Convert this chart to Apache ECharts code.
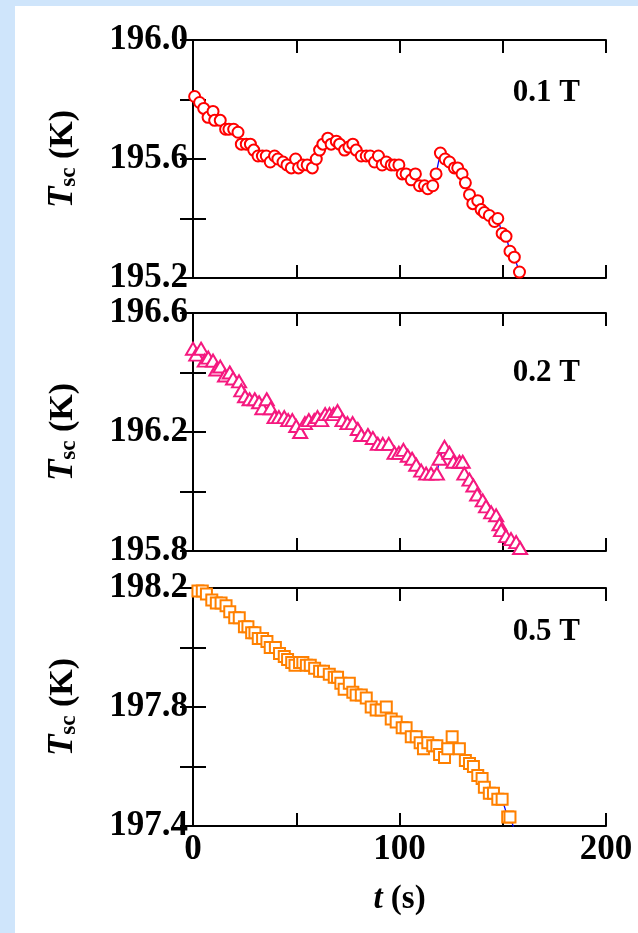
<!DOCTYPE html>
<html>
<head>
<meta charset="utf-8">
<script src="https://cdn.jsdelivr.net/npm/echarts@6/dist/echarts.min.js"></script>
<style>
  html, body { margin: 0; padding: 0; background: #cfe5fb; }
  #card { position: absolute; left: 15px; top: 6px; right: 0; bottom: 0; background: #fff; }
  #chart { position: absolute; left: 0; top: 0; width: 638px; height: 933px; }
</style>
</head>
<body>
<div id="card"></div>
<div id="chart"></div>
<script>
// 0.1 T
const t1 = [0.8, 3.2, 5.2, 7.3, 9.7, 10.5, 13.2, 15.8, 17.4, 19.7, 21.8, 23.4, 25.8, 27.8, 29.4, 31.5, 33.6, 35.5, 37.4, 39.5,
  41.1, 43.6, 45.5, 47.6, 49.7, 51.1, 53.2, 55.3, 57.8, 59.7, 61.3, 62.9, 65.3, 66.9, 69.4, 71.0, 73.4, 75.5, 77.4, 79.0,
  81.5, 83.9, 85.8, 87.9, 89.8, 91.6, 93.6, 96.0, 97.6, 99.7, 101.3, 103.2, 105.7, 107.7, 109.7, 112.1, 113.7, 116.1, 117.7, 119.8,
  122.1, 124.2, 126.6, 128.2, 130.3, 131.9, 133.9, 135.5, 137.9, 139.5, 141.1, 143.5, 146.0, 147.6, 149.7, 151.6, 153.5, 155.6, 158.1];
const v1 = [195.81, 195.79, 195.77, 195.74, 195.76, 195.73, 195.73, 195.70, 195.70, 195.70, 195.69, 195.65, 195.65, 195.65, 195.63, 195.61, 195.61, 195.61, 195.59, 195.61,
  195.60, 195.59, 195.58, 195.57, 195.60, 195.57, 195.58, 195.58, 195.57, 195.60, 195.63, 195.65, 195.67, 195.65, 195.66, 195.65, 195.63, 195.64, 195.65, 195.63,
  195.61, 195.61, 195.61, 195.59, 195.61, 195.58, 195.59, 195.58, 195.58, 195.58, 195.55, 195.55, 195.53, 195.55, 195.51, 195.51, 195.50, 195.51, 195.55, 195.62,
  195.60, 195.59, 195.57, 195.57, 195.55, 195.52, 195.48, 195.45, 195.46, 195.43, 195.42, 195.41, 195.39, 195.40, 195.35, 195.34, 195.29, 195.27, 195.22];

// 0.2 T
const t2 = [0, 1.6, 3.9, 5.7, 7.4, 9.7, 11.3, 13.2, 15.5, 17.8, 19.4, 22.3, 23.4, 25.2, 27.4, 29.9, 32.0, 33.6, 35.7, 37.6,
  39.5, 41.6, 44.2, 46.1, 48.1, 50.0, 51.9, 54.2, 56.1, 58.7, 60.3, 62.1, 64.0, 66.1, 68.1, 70.0, 72.4, 74.8, 77.3, 79.8,
  81.5, 84.7, 87.1, 89.5, 91.9, 94.8, 97.6, 99.7, 101.9, 104.0, 106.1, 108.1, 110.5, 112.9, 115.3, 118.1, 119.4, 121.8, 124.2, 126.1,
  129.0, 130.6, 131.4, 133.9, 135.8, 137.6, 140.3, 141.9, 144.4, 146.8, 148.4, 149.2, 151.6, 154.0, 156.5, 158.4];
const v2 = [196.48, 196.46, 196.48, 196.44, 196.45, 196.44, 196.41, 196.42, 196.39, 196.40, 196.38, 196.37, 196.34, 196.32, 196.31, 196.31, 196.30, 196.28, 196.31, 196.28,
  196.25, 196.25, 196.25, 196.24, 196.24, 196.22, 196.20, 196.23, 196.24, 196.24, 196.25, 196.24, 196.26, 196.26, 196.26, 196.27, 196.24, 196.23, 196.23, 196.21,
  196.19, 196.19, 196.18, 196.16, 196.16, 196.16, 196.13, 196.13, 196.14, 196.12, 196.11, 196.09, 196.07, 196.06, 196.06, 196.06, 196.11, 196.15, 196.13, 196.10,
  196.10, 196.10, 196.06, 196.04, 196.02, 195.99, 195.97, 195.95, 195.93, 195.92, 195.89, 195.87, 195.85, 195.84, 195.83, 195.81];

// 0.5 T
const t3 = [2.4, 4.5, 6.5, 9.1, 11.3, 13.6, 16.0, 17.8, 20.2, 22.4, 24.9, 26.6, 28.4, 30.0, 31.6, 33.7, 35.8, 37.4, 39.9, 41.9,
  44.2, 45.8, 47.8, 49.4, 51.6, 53.2, 54.9, 56.8, 58.9, 61.3, 63.2, 66.0, 68.4, 70.0, 71.6, 73.2, 75.7, 77.4, 79.0, 81.5,
  83.9, 86.3, 88.7, 91.1, 93.6, 96.0, 98.4, 101.3, 103.2, 105.7, 108.1, 110.0, 111.6, 113.7, 116.1, 118.1, 119.4, 121.8, 123.4, 125.5,
  129.0, 131.9, 133.9, 135.8, 137.9, 140.0, 141.1, 143.5, 145.5, 147.6, 149.7, 152.4, 153.5, 157.6];
const v3 = [198.19, 198.19, 198.18, 198.16, 198.15, 198.15, 198.14, 198.12, 198.10, 198.10, 198.07, 198.07, 198.05, 198.05, 198.03, 198.03, 198.02, 198.00, 198.00, 197.98,
  197.97, 197.96, 197.95, 197.94, 197.95, 197.95, 197.94, 197.94, 197.93, 197.92, 197.92, 197.91, 197.90, 197.90, 197.88, 197.86, 197.88, 197.85, 197.84, 197.84,
  197.83, 197.80, 197.79, 197.79, 197.80, 197.76, 197.75, 197.73, 197.73, 197.70, 197.70, 197.68, 197.66, 197.68, 197.67, 197.67, 197.64, 197.63, 197.66, 197.70,
  197.66, 197.62, 197.61, 197.60, 197.57, 197.56, 197.53, 197.51, 197.51, 197.49, 197.49, 197.43, 197.43, 197.35];

const xLabels = [0, 100, 200];
const yLabels1 = ['196.0', '195.6', '195.2'];
const yLabels2 = ['196.6', '196.2', '195.8'];
const yLabels3 = ['198.2', '197.8', '197.4'];
const fields = ['0.1 T', '0.2 T', '0.5 T'];

const FONT = '"Liberation Serif", "Times New Roman", serif';
const black = '#000';

const panels = [
  { top: 40, min: 195.2, max: 196.0, labels: yLabels1, t: t1, v: v1, symbol: 'circle', size: 11, color: '#ff0000', fieldTop: 77 },
  { top: 313, min: 195.8, max: 196.6, labels: yLabels2, t: t2, v: v2, symbol: 'triangle', size: [14, 12], color: '#f5197f', fieldTop: 357 },
  { top: 588, min: 197.4, max: 198.2, labels: yLabels3, t: t3, v: v3, symbol: 'rect', size: 11, color: '#ff8000', fieldTop: 616 }
];

const myChart = echarts.init(document.getElementById('chart'));

const axisLine = { lineStyle: { color: black, width: 2 } };
const axisTick = { inside: true, length: 13, lineStyle: { color: black, width: 2 } };
const labelFont = { fontFamily: FONT, fontSize: 35, fontWeight: 'bold', color: black };

let grid = [], xAxis = [], yAxis = [], series = [], title = [];
panels.forEach((p, i) => {
  grid.push({ left: 193, width: 413, top: p.top, height: 238 });
  xAxis.push({
    gridIndex: i, type: 'value', min: 0, max: 200, interval: 50, position: 'bottom',
    axisLine, axisTick, splitLine: { show: false },
    axisLabel: {
      show: i === 2, margin: 6, ...labelFont,
      formatter: (v) => (xLabels.includes(v) ? String(v) : '')
    },
    name: i === 2 ? '{i|t}{n| (s)}' : '',
    nameLocation: 'middle', nameGap: 57,
    nameTextStyle: {
      rich: {
        i: { fontFamily: FONT, fontSize: 33, fontWeight: 'bold', fontStyle: 'italic', color: black },
        n: { fontFamily: FONT, fontSize: 33, fontWeight: 'bold', color: black }
      }
    }
  });
  xAxis.push({
    gridIndex: i, type: 'value', min: 0, max: 200, interval: 50, position: 'top',
    axisLine, axisTick, axisLabel: { show: false }, splitLine: { show: false }
  });
  yAxis.push({
    gridIndex: i, type: 'value', min: p.min, max: p.max, interval: 0.2, position: 'left',
    axisLine, axisTick, splitLine: { show: false },
    axisLabel: {
      margin: 5, ...labelFont,
      formatter: (v) => (p.labels.includes(v.toFixed(1)) ? v.toFixed(1) : '')
    },
    name: '{i|T}{s|sc}{n| (K)}',
    nameLocation: 'middle', nameRotate: 90, nameGap: 112,
    nameTextStyle: {
      rich: {
        i: { fontFamily: FONT, fontSize: 35, fontWeight: 'bold', fontStyle: 'italic', color: black, lineHeight: 36 },
        s: { fontFamily: FONT, fontSize: 23, fontWeight: 'bold', color: black, lineHeight: 23, verticalAlign: 'bottom' },
        n: { fontFamily: FONT, fontSize: 34, fontWeight: 'bold', color: black, lineHeight: 36 }
      }
    }
  });
  yAxis.push({
    gridIndex: i, type: 'value', min: p.min, max: p.max, interval: 0.2, position: 'right',
    axisLine, axisTick, axisLabel: { show: false }, splitLine: { show: false }
  });
  series.push({
    type: 'line',
    xAxisIndex: 2 * i, yAxisIndex: 2 * i,
    data: p.t.map((t, k) => [t, p.v[k]]),
    symbol: p.symbol, symbolSize: p.size, showAllSymbol: true,
    itemStyle: { color: '#fff', borderColor: p.color, borderWidth: 2 },
    lineStyle: { color: '#0000ff', width: 1.3 },
    emphasis: { disabled: true }
  });
  title.push({
    text: fields[i], right: 58, top: p.fieldTop, padding: 0,
    textStyle: { fontFamily: FONT, fontSize: 31, fontWeight: 'bold', color: black }
  });
});

const option = { animation: false, title, grid, xAxis, yAxis, series };
option && myChart.setOption(option);
</script>
</body>
</html>
